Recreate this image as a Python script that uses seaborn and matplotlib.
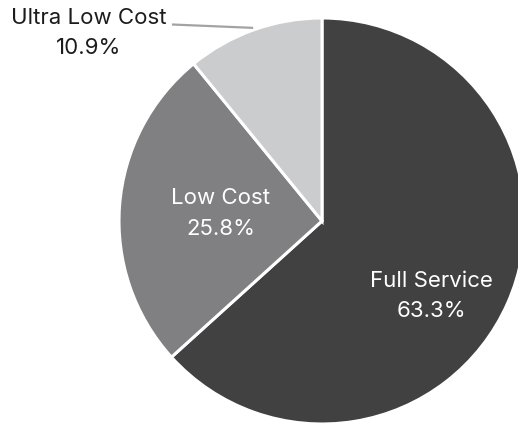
import matplotlib
matplotlib.use("Agg")
import matplotlib.pyplot as plt
import seaborn as sns
import numpy as np

# Market share by carrier model
segments = ["Full Service", "Low Cost", "Ultra Low Cost"]
shares = [63.3, 25.8, 10.9]
colors = ["#414141", "#808083", "#cbcccd"]

sns.set_theme(style="white")
plt.rcParams["font.family"] = ["Inter", "DejaVu Sans"]

W, H, DPI = 518, 424, 100
fig = plt.figure(figsize=(W / DPI, H / DPI), dpi=DPI)
ax = fig.add_axes([0, 0, 1, 1])

wedges, _ = ax.pie(
    shares,
    colors=colors,
    startangle=90,
    counterclock=False,
    wedgeprops=dict(edgecolor="white", linewidth=2.2),
)

# Pie placement on the canvas: centre pixel and radius in pixels
cx, cy, rad = 322, 221, 203
ax.set_xlim(-cx / rad, (W - cx) / rad)
ax.set_ylim(-(H - cy) / rad, cy / rad)
ax.set_aspect("equal", adjustable="box")
ax.axis("off")

fs = 16
ls = 1.68
label_text = [f"{s}\n{v:.1f}%" for s, v in zip(segments, shares)]

# Inside labels (radius, angle offset in degrees from wedge middle)
inside = {0: (0.652, -10.6), 1: (0.50, 0.0)}
for i, (r, off) in inside.items():
    w = wedges[i]
    mid = np.deg2rad((w.theta1 + w.theta2) / 2 + off)
    ax.text(r * np.cos(mid), r * np.sin(mid), label_text[i],
            ha="center", va="center", color="white", fontsize=fs,
            linespacing=ls, multialignment="center")

# Outside label with leader line for the small slice
w = wedges[2]
mid = np.deg2rad((w.theta1 + w.theta2) / 2)
x0, y0 = 1.01 * np.cos(mid), 1.01 * np.sin(mid)
x1, y1 = -0.739, 0.968
ax.plot([x0, x1], [y0, y1], color="#a3a3a3", lw=1.6, solid_capstyle="butt")
ax.text(-1.148, 0.926, label_text[2], ha="center", va="center",
        color="#1c1c1c", fontsize=fs, linespacing=ls,
        multialignment="center")

fig.savefig("out.png", dpi=DPI, facecolor="white")
